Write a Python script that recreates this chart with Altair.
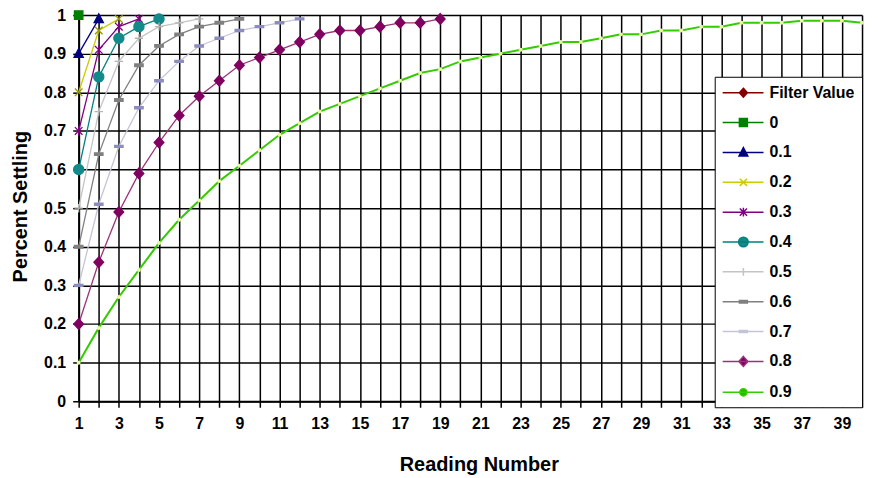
import altair as alt
import pandas as pd

# ---- data ----
series_names = ["Filter Value", "0", "0.1", "0.2", "0.3", "0.4", "0.5", "0.6", "0.7", "0.8", "0.9"]

s_filter = []
s_00 = [1.0]
s_01 = [0.90, 0.99]
s_02 = [0.80, 0.96, 0.99]
s_03 = [0.70, 0.91, 0.97, 0.99]
s_04 = [0.60, 0.84, 0.94, 0.97, 0.99]
s_05 = [0.50, 0.75, 0.88, 0.94, 0.97, 0.98, 0.99]
s_06 = [0.40, 0.64, 0.78, 0.87, 0.92, 0.95, 0.97, 0.98, 0.99]
s_07 = [0.30, 0.51, 0.66, 0.76, 0.83, 0.88, 0.92, 0.94, 0.96, 0.97, 0.98, 0.99]
s_08 = [0.20, 0.36, 0.49, 0.59, 0.67, 0.74, 0.79, 0.83, 0.87, 0.89, 0.91, 0.93,
        0.95, 0.96, 0.96, 0.97, 0.98, 0.98, 0.99]
s_09 = [0.10, 0.19, 0.27, 0.34, 0.41, 0.47, 0.52, 0.57, 0.61, 0.65, 0.69, 0.72,
        0.75, 0.77, 0.79, 0.81, 0.83, 0.85, 0.86, 0.88, 0.89, 0.90, 0.91, 0.92,
        0.93, 0.93, 0.94, 0.95, 0.95, 0.96, 0.96, 0.97, 0.97, 0.98, 0.98, 0.98,
        0.985, 0.985, 0.985, 0.98]

series_values = [s_filter, s_00, s_01, s_02, s_03, s_04, s_05, s_06, s_07, s_08, s_09]

y_ticks = [0, 0.1, 0.2, 0.3, 0.4, 0.5, 0.6, 0.7, 0.8, 0.9, 1.0]
x_ticks = list(range(1, 41))

# ---- styles ----
line_colors = ["#800000", "#008000", "#000080", "#cccc00", "#800080", "#008080",
               "#c4c4c4", "#808080", "#c4c4d8", "#993377", "#33cc00"]
marker_colors = ["#8b0000", "#008000", "#000080", "#999900", "#800080", "#138a8a",
                 "#b4b4b4", "#808080", "#8c8cc0", "#800060", "#22bb00"]
marker_kinds = ["diamond", "square", "triangle", "x", "asterisk", "circle",
                "plus", "dash", "dots", "diamond", "circle"]
marker_scale = [1.0, 1.0, 1.1, 0.9, 0.9, 1.2, 1.0, 1.0, 1.0, 1.15, 0.9]


def marker_path(kind, cx, r):
    def f(v):
        return f"{v:.3f}"
    if kind == "square":
        return f"M{f(cx-r)},{f(-r)}H{f(cx+r)}V{f(r)}H{f(cx-r)}Z"
    if kind == "triangle":
        return f"M{f(cx)},{f(-1.1*r)}L{f(cx+r)},{f(0.8*r)}L{f(cx-r)},{f(0.8*r)}Z"
    if kind == "x":
        return f"M{f(cx-r)},{f(-r)}L{f(cx+r)},{f(r)}M{f(cx-r)},{f(r)}L{f(cx+r)},{f(-r)}"
    if kind == "asterisk":
        return (f"M{f(cx-r)},{f(-r)}L{f(cx+r)},{f(r)}M{f(cx-r)},{f(r)}L{f(cx+r)},{f(-r)}"
                f"M{f(cx)},{f(-1.2*r)}L{f(cx)},{f(1.2*r)}")
    if kind == "circle":
        return (f"M{f(cx-r)},0A{f(r)},{f(r)},0,1,0,{f(cx+r)},0"
                f"A{f(r)},{f(r)},0,1,0,{f(cx-r)},0Z")
    if kind == "plus":
        return f"M{f(cx-r)},0H{f(cx+r)}M{f(cx)},{f(-r)}V{f(r)}"
    if kind == "dash":
        return f"M{f(cx-r)},{f(-0.3*r)}H{f(cx+r)}V{f(0.3*r)}H{f(cx-r)}Z"
    if kind == "dots":
        return (f"M{f(cx-r)},{f(-0.25*r)}H{f(cx-0.5*r)}V{f(0.25*r)}H{f(cx-r)}Z"
                f"M{f(cx-0.25*r)},{f(-0.25*r)}H{f(cx+0.25*r)}V{f(0.25*r)}H{f(cx-0.25*r)}Z"
                f"M{f(cx+0.5*r)},{f(-0.25*r)}H{f(cx+r)}V{f(0.25*r)}H{f(cx+0.5*r)}Z")
    # diamond
    return f"M{f(cx)},{f(-1.1*r)}L{f(cx+r)},0L{f(cx)},{f(1.1*r)}L{f(cx-r)},0Z"


plot_shapes = [marker_path(k, 0, s) for k, s in zip(marker_kinds, marker_scale)]
legend_shapes = ["M-1,0H4.125" + marker_path(k, 1.6, 0.5 * s)
                 for k, s in zip(marker_kinds, marker_scale)]

rows = []
for name, vals in zip(series_names, series_values):
    for i, v in enumerate(vals):
        rows.append({"series": name, "reading": i + 1, "value": v})
df = pd.DataFrame(rows)

FONT = "Liberation Sans"

x_axis = alt.Axis(
    values=x_ticks,
    labelExpr="datum.value % 2 == 1 ? datum.label : ''",
    title="Reading Number",
    grid=True, gridColor="black", gridWidth=1.5, gridOpacity=1,
    domainColor="black", domainWidth=2,
    tickColor="black", tickSize=6, tickWidth=1.5,
    labelFont=FONT, labelFontSize=16, labelFontWeight="bold", labelColor="black",
    labelPadding=8, labelFlush=False, labelOverlap=False,
    titleFont=FONT, titleFontSize=20, titleFontWeight="bold", titleColor="black",
    titleX=402, titleY=70, titleBaseline="alphabetic",
)
y_axis = alt.Axis(
    values=y_ticks, format=".1~f", tickCount=11,
    title="Percent Settling",
    grid=True, gridColor="black", gridWidth=1.5, gridOpacity=1,
    domainColor="black", domainWidth=2,
    tickColor="black", tickSize=6, tickWidth=1.5,
    labelFont=FONT, labelFontSize=16, labelFontWeight="bold", labelColor="black",
    labelPadding=7, labelFlush=False, labelOverlap=False,
    titleFont=FONT, titleFontSize=20, titleFontWeight="bold", titleColor="black",
    titleX=-52, titleY=192, titleBaseline="alphabetic", titleAngle=270,
)
x_scale = alt.Scale(domain=[1, 40], nice=False, zero=False)
y_scale = alt.Scale(domain=[0, 1], nice=False, zero=False)


def xe():
    return alt.X("reading:Q", scale=x_scale, axis=x_axis)


def ye():
    return alt.Y("value:Q", scale=y_scale, axis=y_axis)


base = alt.Chart(df)

lines = base.transform_filter("datum.series != '0.9'").mark_line(strokeWidth=1.3).encode(
    x=xe(), y=ye(),
    color=alt.Color("series:N", scale=alt.Scale(domain=series_names, range=line_colors), legend=None),
)
line09 = base.transform_filter("datum.series == '0.9'").mark_line(strokeWidth=2, color="#33cc00").encode(
    x=xe(), y=ye(),
)
points = base.transform_filter("datum.series != '0.9'").mark_point(
    filled=True, opacity=1, size=72, strokeWidth=1.3
).encode(
    x=xe(), y=ye(),
    shape=alt.Shape("series:N", scale=alt.Scale(domain=series_names, range=plot_shapes), legend=None),
    fill=alt.Fill("series:N", scale=alt.Scale(domain=series_names, range=marker_colors), legend=None),
    stroke=alt.Stroke("series:N", scale=alt.Scale(domain=series_names, range=marker_colors), legend=None),
)
points09 = base.transform_filter("datum.series == '0.9'").mark_point(
    filled=True, opacity=1, size=16, color="#e8f7a0"
).encode(x=xe(), y=ye())

leg = alt.Legend(
    title=None, orient="none", legendX=639, legendY=62,
    fillColor="white", strokeColor="black", padding=7,
    rowPadding=13, symbolSize=256, symbolStrokeWidth=1.5, symbolOpacity=1,
    labelFont=FONT, labelFontSize=16, labelFontWeight="bold", labelColor="black",
    labelOffset=30, labelLimit=200,
)
legend_layer = base.transform_filter("false").mark_point(filled=True, opacity=1).encode(
    shape=alt.Shape("series:N", scale=alt.Scale(domain=series_names, range=legend_shapes), legend=leg),
    fill=alt.Fill("series:N", scale=alt.Scale(domain=series_names, range=marker_colors), legend=leg),
    stroke=alt.Stroke("series:N", scale=alt.Scale(domain=series_names, range=line_colors), legend=leg),
)

chart = alt.layer(lines, line09, points, points09, legend_layer).resolve_scale(
    shape="independent", fill="independent", stroke="independent"
).properties(
    width=787, height=388,
    autosize=alt.AutoSizeParams(type="none"),
    padding={"left": 71, "top": 6, "right": 8, "bottom": 76},
    background="white",
).configure_view(stroke=None)

chart.save("out.html", embed_options={"renderer": "svg", "actions": False})
